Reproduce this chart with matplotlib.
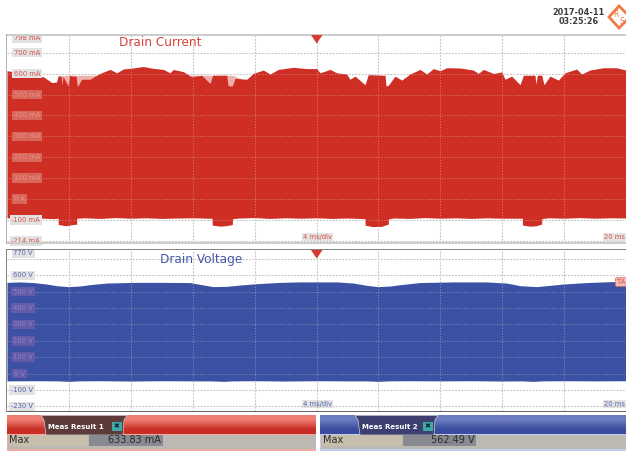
import numpy as np
import matplotlib
matplotlib.use("Agg")
import matplotlib.pyplot as plt
from matplotlib.patches import Rectangle, Polygon

W, H = 626, 451
# ---------- data ----------
cur_top_t = [-20.0,-19.16,-18.3,-17.65,-17.1,-16.8,-16.7,-16.5,-16.45,-16.38,-16.06,-15.95,-15.8,-15.54,-15.45,-15.18,-14.64,-13.99,-13.34,-12.91,-12.48,-11.84,-11.19,-10.54,-9.9,-9.47,-9.25,-8.6,-8.07,-7.42,-6.88,-6.71,-5.8,-5.72,-5.59,-5.44,-5.27,-4.51,-4.08,-3.44,-3.0,-2.47,-1.5,-0.64,0.01,0.23,0.87,1.3,1.95,2.16,2.49,3.13,3.35,4.43,4.49,4.64,5.07,5.5,6.04,6.69,7.12,7.55,7.98,8.41,9.27,10.13,10.46,10.78,11.43,11.97,12.18,12.61,13.15,13.37,14.12,14.18,14.27,14.55,14.7,15.09,15.63,16.06,16.81,17.13,17.67,18.54,19.4,20.0]
cur_top_v = [614,604,588,585,557,560,588,588,544,588,541,592,588,588,537,573,573,601,620,604,622,627,634,625,620,604,620,609,585,592,553,592,592,544,541,541,577,573,601,617,598,620,630,624,624,604,620,604,598,573,588,547,595,592,541,544,588,569,598,620,598,624,614,628,627,617,601,620,601,608,573,588,547,592,592,550,592,592,547,588,569,604,622,598,617,628,628,617]
pale_t = [-16.72,-16.2,-16.19,-15.9,-5.85,-5.4,12.9,14.3,14.31,14.6]
pale_v = [590,590,592,592,592,592,0,0,592,592]
cur_low_t = [-20,-19,-18,-17,-16.7,-16.69,-16.2,-15.9,-15.5,-15.49,-15,-14,-13,-12,-11,-10,-9,-8,-7,-6.75,-6.74,-6.2,-5.8,-5.44,-5.43,-5,-4,-3,-2,-1,0,1,2,3.13,3.14,3.6,4.2,4.64,4.65,5,6,7,8,9,10,11,12,13.3,13.31,13.8,14.2,14.55,14.56,15,16,17,18,19,20]
cur_low_v = [-90,-93,-91,-94,-92,-122,-128,-124,-120,-92,-90,-93,-89,-92,-90,-93,-91,-90,-92,-92,-125,-130,-127,-122,-94,-91,-89,-93,-90,-92,-90,-93,-91,-94,-125,-132,-131,-120,-95,-91,-93,-89,-92,-90,-93,-90,-92,-92,-125,-130,-128,-120,-94,-90,-92,-89,-92,-90,-91]
volt_top_t = [-20,-19.16,-18.3,-17.44,-16.8,-16.04,-15.28,-14.64,-13.56,-11.84,-9.68,-8.17,-7.53,-6.67,-5.8,-4.94,-3.87,-2.36,-1.07,0.01,1.3,2.38,3.24,3.99,4.75,5.4,6.69,8.84,10.99,12.29,13.15,14.23,15.09,15.95,17.46,19.18,20]
volt_top_v = [557,560,556,547,537,531,535,543,553,557,557,556,545,531,533,541,549,557,560,560,560,553,539,531,535,543,556,560,560,553,537,531,539,547,556,562,553]
volt_low_t = [-20,-18,-16.7,-16,-15.4,-14,-12,-10,-8,-6.8,-6,-5.4,-4,-2,0,2,3.2,4,4.6,6,8,10,12,13.3,14,14.6,16,18,20]
volt_low_v = [-45,-44,-45,-48,-45,-44,-46,-44,-45,-45,-48,-45,-44,-46,-44,-45,-45,-48,-45,-44,-45,-44,-46,-45,-48,-45,-44,-45,-44]

cur_grid = [700,600,500,400,300,200,100,0,-100,-200]
volt_grid = [700,600,500,400,300,200,100,0,-100,-200]
cur_labels = ["798 mA","700 mA","600 mA","500 mA","400 mA","300 mA","200 mA","100 mA","0 A","-100 mA","-214 mA"]
cur_label_pos = [768,700,600,500,400,300,200,100,0,-100,-200]
volt_labels = ["770 V","600 V","500 V","400 V","300 V","200 V","100 V","0 V","-100 V","-230 V"]
volt_label_pos = [735,600,500,400,300,200,100,0,-100,-200]
time_ticks = [-16,-12,-8,-4,0,4,8,12,16]

RED = "#CF2E25"; BLUE = "#3B52A4"
RTXT = "#D8504A"; BTXT = "#5566B0"
RIN = "#EA9186"; BIN = "#8A86C8"
RBOX = "#D9665B"; BBOX = "#6559A9"

fig = plt.figure(figsize=(W/100, H/100), dpi=100, facecolor="white")

def make_ax(top, bottom, ylim):
    a = fig.add_axes([7/W, 1-bottom/H, (W-7)/W, (bottom-top)/H])
    a.set_xlim(-20, 20); a.set_ylim(*ylim)
    a.set_xticks([]); a.set_yticks([])
    for s in a.spines.values():
        s.set_visible(False)
    return a

def panel(a, tt, tv, lt, lv, col, grid, labels, pos, tcol, incol, inbox, low):
    x = np.array(sorted(set(tt) | set(lt)))
    a.fill_between(x, np.interp(x, lt, lv), np.interp(x, tt, tv), color=col, lw=0, zorder=2)
    for g in grid:
        a.axhline(g, color="#bdbdbd", lw=0.8, dashes=(1.3, 1.6), zorder=1)
        a.axhline(g, color="#d8c8c8", lw=0.6, dashes=(1.3, 2.0), alpha=0.55, zorder=3)
    for t in time_ticks:
        a.axvline(t, color="#bdbdbd", lw=0.8, dashes=(1.3, 1.6), zorder=1)
        a.axvline(t, color="#d8c8c8", lw=0.6, dashes=(1.3, 2.0), alpha=0.55, zorder=3)
    for lab, p in zip(labels, pos):
        right = 25 if lab in ("0 A", "0 V") else (40 if "mA" in lab else 33)
        inside = low < p < 560
        a.annotate(lab, xy=(0, p), xycoords=("axes fraction", "data"),
                   xytext=(right-7, 0), textcoords="offset pixels", ha="right", va="center",
                   fontsize=4.9, color=incol if inside else tcol, zorder=5,
                   bbox=dict(boxstyle="square,pad=0.25", fc=inbox if inside else "#E2E2E2", ec="none"))

ax1 = make_ax(35, 243, (-210.5, 784.7))
ax1.fill_between(pale_t, 0, pale_v, color="#EFB0AA", lw=0, zorder=1.5)
panel(ax1, cur_top_t, cur_top_v, cur_low_t, cur_low_v, RED, cur_grid, cur_labels, cur_label_pos, RTXT, RIN, RBOX, -50)
ax2 = make_ax(250, 411, (-229, 755))
panel(ax2, volt_top_t, volt_top_v, volt_low_t, volt_low_v, BLUE, volt_grid, volt_labels, volt_label_pos, BTXT, BIN, BBOX, -40)

# ---------- chrome, in pixel space ----------
ov = fig.add_axes([0, 0, 1, 1], facecolor="none")
ov.set_axis_off()

def grad(x0, x1, y0, y1, c0, c1):
    c = np.array([matplotlib.colors.to_rgb(c0), matplotlib.colors.to_rgb(c1)])[:, None, :]
    ov.imshow(c, extent=(x0, x1, y1, y0), aspect="auto", interpolation="bilinear", zorder=2)

def rect(x0, y0, x1, y1, col, z=3):
    ov.add_patch(Rectangle((x0, y0), x1-x0, y1-y0, fc=col, ec="none", zorder=z))

# borders
rect(6, 34, 626, 35.5, "#cccccc"); rect(6, 242, 626, 244, "#cccccc"); rect(6, 34, 7, 244, "#b5b5b5")
rect(6, 249, 626, 250, "#858585"); rect(6, 410.5, 626, 412, "#666666"); rect(6, 249, 7, 412, "#858585")

# trigger markers
for yy in (35, 250):
    ov.add_patch(Polygon([(311, yy), (322.5, yy), (316.7, yy+8.5)], fc="#D93A30", ec="none", zorder=6))

ov.text(160.5, 42, "Drain Current", color="#D9433B", fontsize=8.7, ha="center", va="center", zorder=6)
ov.text(201.5, 259, "Drain Voltage", color="#4458A8", fontsize=8.7, ha="center", va="center", zorder=6)

# x-axis labels
bb = dict(boxstyle="square,pad=0.2", fc="#a8a8a8", ec="none", alpha=0.3)
ov.text(317.5, 237, "4 ms/div", color=RTXT, fontsize=4.9, ha="center", va="center", bbox=bb, zorder=6)
ov.text(625, 237, "20 ms", color=RTXT, fontsize=4.9, ha="right", va="center", bbox=bb, zorder=6)
ov.text(317.5, 404, "4 ms/div", color=BTXT, fontsize=4.9, ha="center", va="center", bbox=bb, zorder=6)
ov.text(625, 404, "20 ms", color=BTXT, fontsize=4.9, ha="right", va="center", bbox=bb, zorder=6)
ov.text(625, 282, "TA", color="#D8504A", fontsize=4.9, ha="right", va="center", zorder=6,
        bbox=dict(boxstyle="round,pad=0.2", fc="#f3b9b5", ec="#e06a62", lw=0.5))

# date and logo
ov.text(578.5, 12.5, "2017-04-11", color="#3c3c3c", fontsize=5.9, fontweight="bold", ha="center", va="center")
ov.text(578.5, 21.5, "03:25:26", color="#3c3c3c", fontsize=5.9, fontweight="bold", ha="center", va="center")
ov.add_patch(Polygon([(609, 17), (619, 6), (630, 17), (619, 28)], fc="white", ec="#EE7B45", lw=2, zorder=6))
ov.text(615.5, 14.5, "R", color="#EE7B45", fontsize=5.5, ha="center", va="center", zorder=7)
ov.text(621.5, 21.5, "S", color="#EE7B45", fontsize=5.5, ha="center", va="center", zorder=7)

def meas(x0, x1, c0, c1, edge, tab0, tab1, tabc, title, b0, b1, v1, value):
    rect(x0, 415, x1, 451, edge, 1)
    grad(x0, x1, 416, 434.5, c0, c1)
    ov.add_patch(Polygon([(tab0, 415.5), (tab1, 415.5), (tab1-3, 420), (tab1-4, 435), (tab0+5, 435), (tab0+3, 420)],
                         fc=tabc, ec="#cfcfcf", lw=0.5, zorder=4))
    ov.text(tab0+7.5, 427, title, color="white", fontsize=5.0, fontweight="bold", ha="left", va="center", zorder=5)
    rect(tab1-15, 422, tab1-5.5, 431, "#3FA9A5", 5)
    ov.text(tab1-10.2, 426.6, "✖", color="#123", fontsize=5, ha="center", va="center", zorder=6)
    rect(x0+0.8, 434.5, x1-0.5, 449.3, "#BCB8B2", 3)
    rect(x0+1.5, 435, b0, 445.5, "#C7BFAC", 4)
    rect(b0+0.5, 435, b1, 445.5, "#878A90", 4)
    ov.text(x0+2.5, 440.3, "Max", color="#2a2a2a", fontsize=7, ha="left", va="center", zorder=5)
    ov.text(v1, 440.3, value, color="#2a2a2a", fontsize=7, ha="right", va="center", zorder=5)

meas(7, 316, "#EE7D72", "#C92E26", "#F2AAA5", 41, 127, "#5E3B3B", "Meas Result 1", 88, 163, 160.5, "633.83 mA")
meas(320, 626, "#6C7CC0", "#3A4C9E", "#C3CBEA", 355, 438, "#3D3F70", "Meas Result 2", 402, 476, 474.5, "562.49 V")

ov.set_xlim(0, W); ov.set_ylim(H, 0)
fig.savefig("out.png", dpi=100)
